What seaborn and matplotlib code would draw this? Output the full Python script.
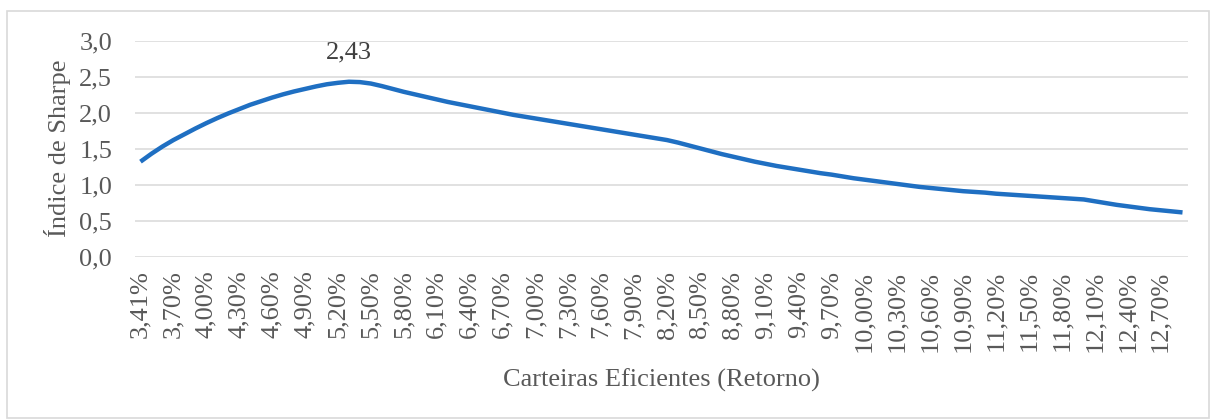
import matplotlib
matplotlib.use("Agg")
import matplotlib.pyplot as plt
import seaborn as sns
import pandas as pd
from matplotlib.patches import Rectangle

# Retorno esperado de cada carteira eficiente (%)
retorno = [
    3.41, 3.50, 3.60, 3.70, 3.80, 3.90, 4.00, 4.10, 4.20, 4.30,
    4.40, 4.50, 4.60, 4.70, 4.80, 4.90, 5.00, 5.10, 5.20, 5.30,
    5.40, 5.50, 5.60, 5.70, 5.80, 5.90, 6.00, 6.10, 6.20, 6.30,
    6.40, 6.50, 6.60, 6.70, 6.80, 6.90, 7.00, 7.10, 7.20, 7.30,
    7.40, 7.50, 7.60, 7.70, 7.80, 7.90, 8.00, 8.10, 8.20, 8.30,
    8.40, 8.50, 8.60, 8.70, 8.80, 8.90, 9.00, 9.10, 9.20, 9.30,
    9.40, 9.50, 9.60, 9.70, 9.80, 9.90, 10.00, 10.10, 10.20, 10.30,
    10.40, 10.50, 10.60, 10.70, 10.80, 10.90, 11.00, 11.10, 11.20, 11.30,
    11.40, 11.50, 11.60, 11.70, 11.80, 11.90, 12.00, 12.10, 12.20, 12.30,
    12.40, 12.50, 12.60, 12.70, 12.80, 12.90,
]

# Índice de Sharpe de cada carteira
sharpe = [
    1.32, 1.43, 1.53, 1.62, 1.70, 1.78, 1.855, 1.925, 1.99, 2.05,
    2.11, 2.16, 2.21, 2.255, 2.295, 2.33, 2.365, 2.395, 2.415, 2.43,
    2.425, 2.405, 2.37, 2.33, 2.29, 2.255, 2.22, 2.185, 2.15, 2.12,
    2.09, 2.06, 2.03, 2.00, 1.97, 1.945, 1.92, 1.895, 1.87, 1.845,
    1.82, 1.795, 1.77, 1.745, 1.72, 1.695, 1.67, 1.645, 1.62, 1.585,
    1.545, 1.505, 1.465, 1.425, 1.39, 1.355, 1.32, 1.29, 1.26, 1.235,
    1.21, 1.185, 1.16, 1.14, 1.115, 1.09, 1.07, 1.05, 1.03, 1.01,
    0.99, 0.97, 0.955, 0.94, 0.925, 0.91, 0.90, 0.89, 0.875, 0.865,
    0.855, 0.845, 0.835, 0.825, 0.815, 0.805, 0.795, 0.77, 0.745, 0.72,
    0.70, 0.68, 0.66, 0.645, 0.63, 0.615,
]

y_ticks = [0.0, 0.5, 1.0, 1.5, 2.0, 2.5, 3.0]
label_step = 3

sns.set_theme(style="white")
plt.rcParams["font.family"] = ["Liberation Serif", "DejaVu Serif"]

text_grey = "#595959"
grid_grey = "#d9d9d9"
line_blue = "#1f6fc2"
fs = 19

df = pd.DataFrame({"pos": range(len(retorno)), "retorno": retorno, "sharpe": sharpe})

W, H = 1216, 419
fig = plt.figure(figsize=(W / 100, H / 100), dpi=100)
left, right, top, bottom = 135, 1188, 40.7, 256.7
ax = fig.add_axes([left / W, 1 - bottom / H, (right - left) / W, (bottom - top) / H])

sns.lineplot(data=df, x="pos", y="sharpe", ax=ax, color=line_blue,
             linewidth=3.2, solid_capstyle="butt", solid_joinstyle="round", zorder=3)

ax.set_xlim(-0.5, len(retorno) - 0.5)
ax.set_ylim(0, 3.0)
ax.set_yticks(y_ticks)
ax.set_yticklabels([f"{v:.1f}".replace(".", ",") for v in y_ticks])

tick_pos = list(range(0, len(retorno), label_step))
ax.set_xticks(tick_pos)
ax.set_xticklabels([f"{retorno[i]:.2f}%".replace(".", ",") for i in tick_pos],
                   rotation=90, va="top", ha="center")

ax.grid(axis="y", color=grid_grey, linewidth=1.1)
ax.set_axisbelow(True)
for s in ax.spines.values():
    s.set_visible(False)
ax.tick_params(axis="both", length=0, labelsize=fs, colors=text_grey)
ax.tick_params(axis="x", pad=10)
ax.tick_params(axis="y", pad=16.5)

ax.set_xlabel("Carteiras Eficientes (Retorno)", fontsize=fs, color=text_grey, labelpad=12)
ax.set_ylabel("Índice de Sharpe", fontsize=fs, color=text_grey, labelpad=6)

# Rótulo do ponto de máximo
imax = max(range(len(sharpe)), key=lambda i: sharpe[i])
ax.annotate(f"{sharpe[imax]:.2f}".replace(".", ","), xy=(imax, sharpe[imax]),
            xytext=(0, 21), textcoords="offset points", ha="center", va="center",
            fontsize=fs, color="#404040")

fig.patches.append(Rectangle((7 / W, 1 - 418 / H), (1209 - 7) / W, (418 - 11) / H,
                             transform=fig.transFigure, fill=False,
                             edgecolor=grid_grey, linewidth=1.2))

fig.savefig("out.png", dpi=100, facecolor="white")
